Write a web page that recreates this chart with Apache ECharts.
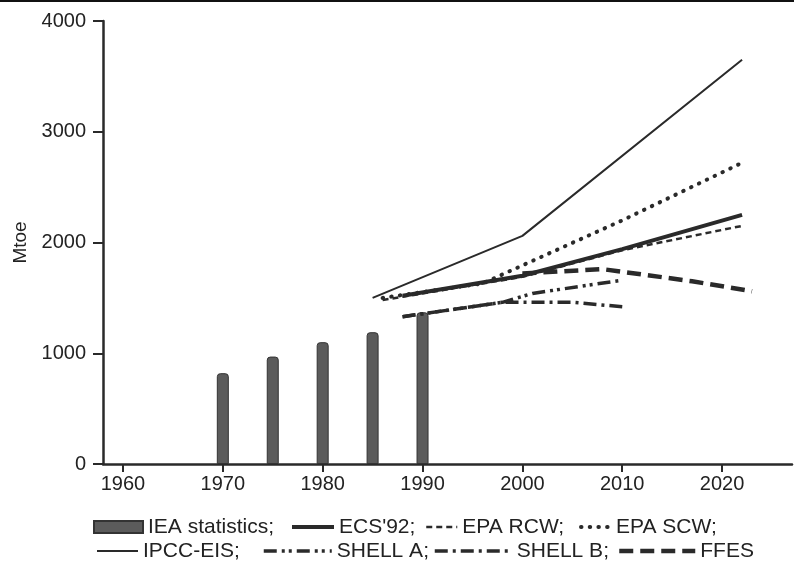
<!DOCTYPE html>
<html>
<head>
	<meta charset="utf-8">
	<title>Mtoe</title>
	<script src="https://cdn.jsdelivr.net/npm/echarts@6/dist/echarts.min.js"></script>
	<style>
		html, body { margin: 0; padding: 0; background: #fff; }
		#box { width: 794px; height: 562px; }
	</style>
</head>
<body>
	<div id="box"></div>
</body>

<script type="text/javascript">
	// data (year, Mtoe)
	var ieaYears = [1970, 1975, 1980, 1985, 1990];
	var ieaValues = [820, 970, 1100, 1190, 1370];

	var ecs92 = [[1988, 1520], [2000, 1700], [2010, 1940], [2022, 2250]];
	var epaRcw = [[1986, 1480], [2000, 1690], [2010, 1930], [2022, 2150]];
	var epaScw = [[1986, 1500], [1996, 1630], [2010, 2200], [2022, 2720]];
	var ipccEis = [[1985, 1500], [2000, 2060], [2022, 3650]];
	var shellA = [[1988, 1330], [1998, 1460], [2001, 1540], [2010, 1660]];
	var shellB = [[1988, 1330], [1998, 1460], [2005, 1460], [2010, 1420]];
	var ffes = [[2000, 1720], [2008, 1760], [2017, 1650], [2023, 1560]];

	var xTicks = [1960, 1970, 1980, 1990, 2000, 2010, 2020];

	var ink = '#2a2a2a';
	var font = '"Liberation Sans", Arial, sans-serif';

	// line looks: width, dash, cap
	var looks = {
		"ECS'92;": [4, 'solid', 'butt'],
		'EPA RCW;': [2.5, [6, 4], 'butt'],
		'EPA SCW;': [4, [0.5, 8.2], 'round'],
		'IPCC-EIS;': [2, 'solid', 'butt'],
		'SHELL A;': [3.5, [13, 5, 3, 4, 3, 5], 'butt'],
		'SHELL B;': [3.5, [13, 5, 3, 5], 'butt'],
		'FFES': [4.5, [14, 7], 'butt']
	};

	function lineSeries(name, data){
		var lk = looks[name];
		return {
			name: name,
			type: 'line',
			data: data,
			symbol: 'none',
			z: 3,
			itemStyle: {color: ink},
			lineStyle: {color: ink, width: lk[0], type: lk[1], cap: lk[2]}
		};
	}

	function leg(name, left, top, w){
		var l = {
			data: [name],
			left: left,
			top: top,
			itemWidth: w,
			itemHeight: 12,
			padding: 0,
			itemGap: 0,
			selectedMode: false,
			textStyle: {fontFamily: font, fontSize: 21, color: '#222', lineHeight: 22}
		};
		var lk = looks[name];
		if(lk){
			l.itemStyle = {opacity: 0};
			l.lineStyle = {color: ink, width: lk[0], type: lk[1], cap: lk[2]};
		} else {
			l.icon = 'rect';
		}
		return l;
	}

	var ieaData = [];
	for (var i = 0; i < ieaYears.length; i++) {
		ieaData.push([ieaYears[i], ieaValues[i]]);
	}

	function plain(v){
		return String(v);
	}

	var option = {
		animation: false,
		grid: {left: 103, right: 2, top: 21, bottom: 98},
		xAxis: {
			type: 'value',
			min: 1958,
			max: 2027,
			splitLine: {show: false},
			axisLine: {lineStyle: {color: ink, width: 2.5}},
			axisTick: {length: 8, lineStyle: {color: ink, width: 2}, customValues: xTicks},
			axisLabel: {customValues: xTicks, formatter: plain, color: '#222', fontFamily: font, fontSize: 20, margin: 10}
		},
		yAxis: {
			type: 'value',
			min: 0,
			max: 4000,
			interval: 1000,
			name: 'Mtoe',
			nameLocation: 'middle',
			nameRotate: 90,
			nameGap: 72,
			nameTextStyle: {color: '#222', fontFamily: font, fontSize: 19},
			splitLine: {show: false},
			axisLine: {show: true, lineStyle: {color: ink, width: 2.5}},
			axisTick: {show: true, length: 10, lineStyle: {color: ink, width: 2}},
			axisLabel: {formatter: plain, color: '#222', fontFamily: font, fontSize: 20, margin: 17}
		},
		legend: [
			leg('IEA statistics;', 93, 516, 49),
			leg("ECS'92;", 290, 516, 42),
			leg('EPA RCW;', 425, 516, 31),
			leg('EPA SCW;', 579, 516, 30),
			leg('IPCC-EIS;', 96, 540, 41),
			leg('SHELL A;', 262, 540, 68),
			leg('SHELL B;', 433, 540, 77),
			leg('FFES', 617, 540, 76)
		],
		graphic: [
			{type: 'rect', shape: {x: 0, y: 0, width: 794, height: 2}, style: {fill: '#111'}}
		],
		series: [
			{
				name: 'IEA statistics;',
				type: 'bar',
				data: ieaData,
				barWidth: 12,
				z: 2,
				itemStyle: {color: '#5b5b5b', borderColor: '#333', borderWidth: 1, borderRadius: [3, 3, 0, 0]}
			},
			lineSeries("ECS'92;", ecs92),
			lineSeries('EPA RCW;', epaRcw),
			lineSeries('EPA SCW;', epaScw),
			lineSeries('IPCC-EIS;', ipccEis),
			lineSeries('SHELL A;', shellA),
			lineSeries('SHELL B;', shellB),
			lineSeries('FFES', ffes)
		]
	};

	var myChart = echarts.init(document.getElementById('box'));
	myChart.setOption(option);
</script>
</html>
